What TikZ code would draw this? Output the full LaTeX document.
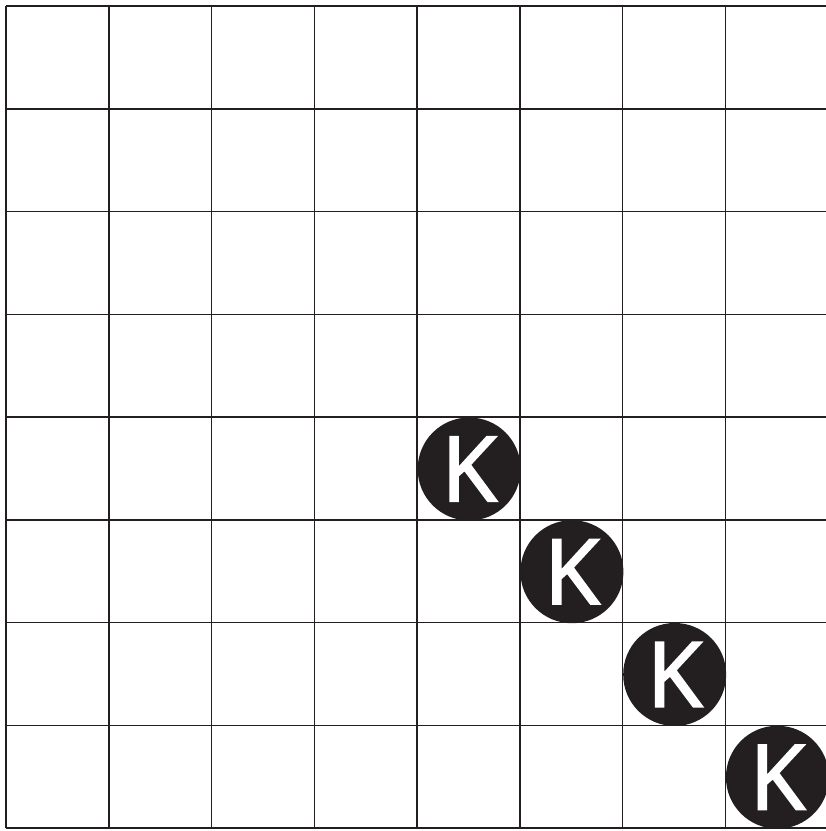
\documentclass[tikz,border=0pt]{standalone}
\usepackage{fontspec}
\newfontfamily\kfont[FakeBold=2.2]{Open Sans}
\definecolor{ink}{HTML}{231F20}
\begin{document}
\begin{tikzpicture}[x=1pt,y=-1pt,
  gridline/.style={draw=ink,line width=1.5pt},
  kdisc/.style={circle,fill=ink,minimum size=103pt,inner sep=0pt,text=white,font=\kfont\fontsize{90}{90}\selectfont}]
\useasboundingbox (0,0) rectangle (826,831);
\clip (0,0) rectangle (826,831);
\fill[white] (0,0) rectangle (826,831);
\foreach \i in {0,...,8}{
  \draw[gridline] ({6+\i*102.75},6) -- ({6+\i*102.75},828);
  \draw[gridline] (6,{6+\i*102.75}) -- (840,{6+\i*102.75});
}
\node[kdisc] (k1) at ({6+4.5*102.75+0.8},{6+4.5*102.75+0.6}) {K};
\node[kdisc] (k2) at ({6+5.5*102.75+0.8},{6+5.5*102.75+0.6}) {K};
\node[kdisc] (k3) at ({6+6.5*102.75+0.8},{6+6.5*102.75+0.6}) {K};
\node[kdisc] (k4) at ({6+7.5*102.75+0.8},{6+7.5*102.75+0.6}) {K};
\end{tikzpicture}
\end{document}
